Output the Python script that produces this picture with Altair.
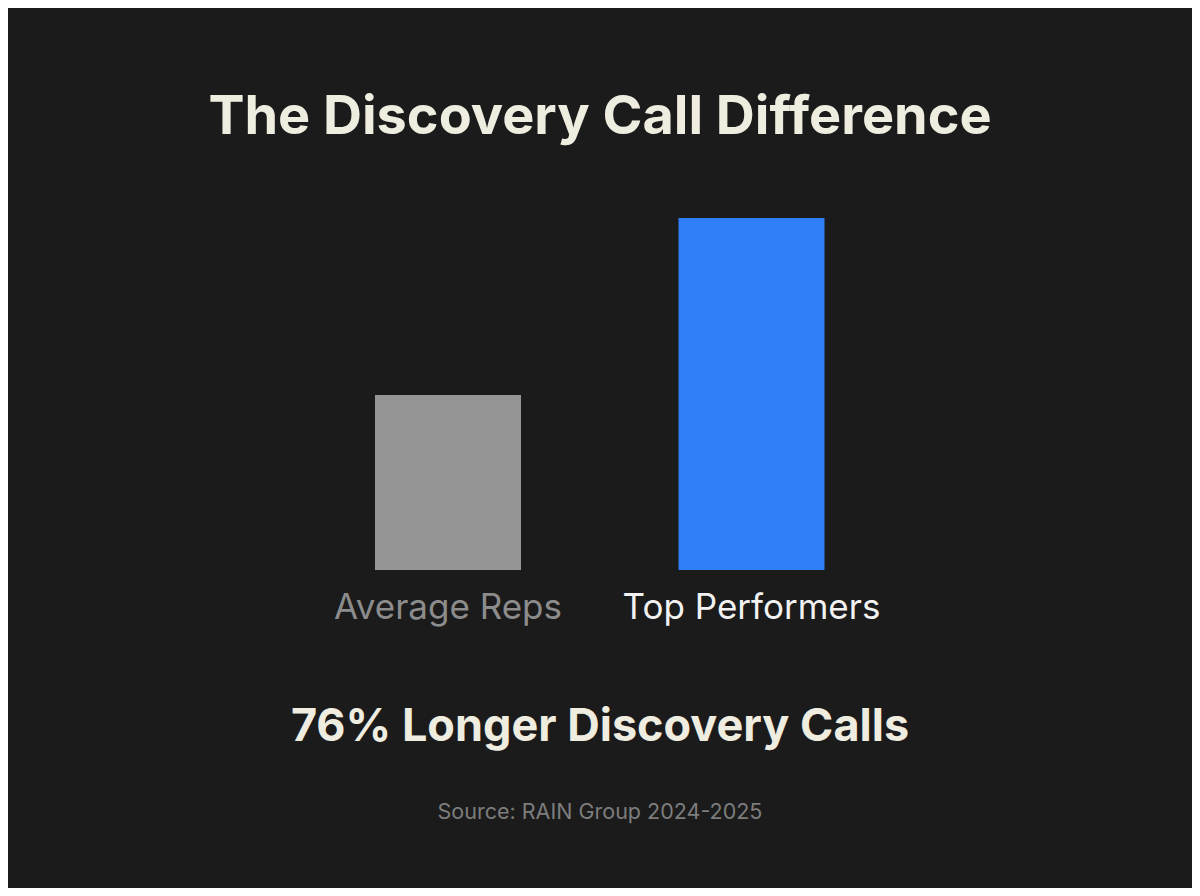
import altair as alt
import pandas as pd

# Data
categories = ["Average Reps", "Top Performers"]
values = [100, 201]            # relative bar heights as drawn
bar_colors = ["#959595", "#2f80f8"]
label_colors = ["#8c8c8c", "#f2f2f2"]

title_text = "The Discovery Call Difference"
headline_text = "76% Longer Discovery Calls"
source_text = "Source: RAIN Group 2024-2025"

BG = "#1b1b1b"
CREAM = "#efece0"
FONT = "Inter"

df = pd.DataFrame({"category": categories, "value": values,
                   "bar_color": bar_colors, "label_color": label_colors})

W, H = 1184, 880
OFF = 8  # page margin

x_scale = alt.Scale(domain=categories, range=[288.25, 895.25],
                    paddingInner=0.519, paddingOuter=0.2595)
# baseline at page y 570, top bar at page y 218
y_scale = alt.Scale(domain=[0, max(values)], range=[570 - OFF, 218 - OFF], nice=False, zero=True)

base = alt.Chart(df)

bars = base.mark_bar(size=146).encode(
    x=alt.X("category:N", scale=x_scale, axis=None, sort=categories),
    y=alt.Y("value:Q", scale=y_scale, axis=None),
    color=alt.Color("bar_color:N", scale=None, legend=None),
)

labels = base.mark_text(font=FONT, fontSize=35, fontWeight=400, baseline="middle", align="center").encode(
    x=alt.X("category:N", scale=x_scale, axis=None, sort=categories),
    y=alt.value(608 - OFF),
    text="category:N",
    color=alt.Color("label_color:N", scale=None, legend=None),
)

text_df = pd.DataFrame({"t": [title_text]})
title = alt.Chart(text_df).mark_text(font=FONT, fontSize=54, fontWeight="bold", color=CREAM,
                                      align="center", baseline="middle").encode(
    x=alt.value(600 - OFF), y=alt.value(118 - OFF), text="t:N")

head_df = pd.DataFrame({"t": [headline_text]})
headline = alt.Chart(head_df).mark_text(font=FONT, fontSize=45, fontWeight="bold", color=CREAM,
                                         align="center", baseline="middle").encode(
    x=alt.value(600 - OFF), y=alt.value(727 - OFF), text="t:N")

src_df = pd.DataFrame({"t": [source_text]})
source = alt.Chart(src_df).mark_text(font=FONT, fontSize=21.5, fontWeight=400, color="#7d7d7d",
                                      align="center", baseline="middle").encode(
    x=alt.value(600 - OFF), y=alt.value(813 - OFF), text="t:N")

chart = alt.layer(bars, labels, title, headline, source).properties(
    width=W, height=H, padding=0, background=BG,
    autosize=alt.AutoSizeParams(type="none"),
).configure_view(stroke=None)

chart.save("out.html", embed_options={"renderer": "svg", "actions": False})
